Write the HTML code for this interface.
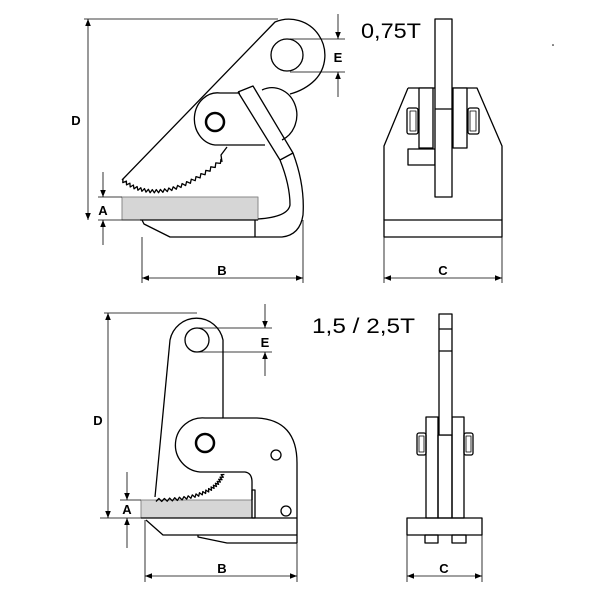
<!DOCTYPE html>
<html><head><style>
html,body{margin:0;padding:0;background:#fff;}
svg{display:block;}
text{font-family:"Liberation Sans",sans-serif;}
</style></head><body>
<svg id="s" width="600" height="600" viewBox="0 0 600 600" xmlns="http://www.w3.org/2000/svg">
<defs>
<marker id="ar" viewBox="0 0 10 10" refX="10" refY="5" markerWidth="9" markerHeight="7" orient="auto-start-reverse" markerUnits="userSpaceOnUse"><path d="M0,1 L10,5 L0,9 z" fill="#000"/></marker>
</defs>
<g fill="none" stroke="#000" stroke-width="1.3" stroke-linejoin="round">
<rect x="122" y="197" width="136" height="23" fill="#d6d6d6" stroke="#888" stroke-width="1"/>
<path d="M122,180 L275,22 A36,36 0 0 1 315,80 Q305,90 290,94"/>
<circle cx="287" cy="55" r="16"/>
<path d="M262,90 A20,22 0 0 1 282,140"/>
<path d="M240,93 L220,93 A23,26 0 0 0 215,145 L265,145"/>
<circle cx="215" cy="122" r="9" stroke-width="2.5"/>
<path d="M227,147 L221,155 L222,162"/>
<path d="M238,92 L253,86 L293,153 Q305,185 303,215 Q300,235 282,237 L255,237"/>
<path d="M238,92 L280,160 Q290,185 290,205 Q288,217 258,219"/>
<path d="M280,160 L293,153"/>
<path d="M140,220 L258,220 M142,220 L144,224 L170,237 L255,237 M255,220 L255,237"/>
<path d="M408,88 L477,88 L502,146 L502,220 M408,88 L384,146 L384,220"/>
<rect x="384" y="220" width="118" height="17"/>
<rect x="408" y="149" width="27" height="16" fill="#fff"/>
<rect x="419" y="88" width="14" height="60" fill="#fff"/>
<rect x="453" y="88" width="14" height="60" fill="#fff"/>
<rect x="435" y="19" width="17" height="178" fill="#fff"/>
<line x1="435" y1="109" x2="452" y2="109"/>
<rect x="407" y="108" width="11" height="26" rx="2" fill="#fff"/>
<rect x="410" y="111" width="6" height="20" stroke-width="0.8"/>
<rect x="468" y="108" width="11" height="26" rx="2" fill="#fff"/>
<rect x="470" y="111" width="6" height="20" stroke-width="0.8"/>
<rect x="141" y="500" width="111" height="18" fill="#d6d6d6" stroke="#888" stroke-width="1"/>
<path d="M155,497 L170,340 A27,27 0 0 1 223,340 L223,418 L257,418 Q297,420 297,463 L297,543"/>
<circle cx="197" cy="340" r="12"/>
<path d="M223,418 L205,418 A27,27 0 0 0 200,472 L245,472 Q252,473 252,482 L252,500"/>
<circle cx="205" cy="443" r="9" stroke-width="2.5"/>
<rect x="252" y="490" width="3" height="28"/>
<circle cx="276" cy="455" r="5"/>
<circle cx="286" cy="511" r="5"/>
<path d="M141,518 L297,518 M146,520 L163,535 L297,535 M198,535 L198,537 L227,543 L297,543"/>
<rect x="426" y="417" width="12" height="101"/>
<rect x="452" y="417" width="12" height="101"/>
<rect x="438" y="435" width="14" height="83"/>
<rect x="439" y="314" width="13" height="121" fill="#fff"/>
<path d="M439,329 L452,329 M439,351 L452,351"/>
<rect x="417" y="433" width="9" height="22" rx="2"/>
<rect x="419" y="436" width="5" height="16" stroke-width="0.8"/>
<rect x="464" y="433" width="9" height="22" rx="2"/>
<rect x="466" y="436" width="5" height="16" stroke-width="0.8"/>
<rect x="407" y="518" width="75" height="17"/>
<rect x="425" y="535" width="13" height="8"/>
<rect x="452" y="535" width="14" height="8"/>
<path id="t1"/>
<path id="t2"/>
</g>
<g stroke="#000" stroke-width="0.8" fill="none">
<path d="M84,19 L278,19 M98,197 L122,197 M98,220 L140,220 M290,39 L345,39 M290,72 L345,72 M142,237 L142,283 M303,220 L303,283 M384,237 L384,283 M502,237 L502,283"/>
<line x1="88" y1="19" x2="88" y2="220" marker-start="url(#ar)" marker-end="url(#ar)"/>
<line x1="103" y1="172" x2="103" y2="197" marker-end="url(#ar)"/>
<line x1="103" y1="245" x2="103" y2="220" marker-end="url(#ar)"/>
<line x1="338" y1="14" x2="338" y2="39" marker-end="url(#ar)"/>
<line x1="338" y1="97" x2="338" y2="72" marker-end="url(#ar)"/>
<line x1="142" y1="278" x2="303" y2="278" marker-start="url(#ar)" marker-end="url(#ar)"/>
<line x1="384" y1="278" x2="502" y2="278" marker-start="url(#ar)" marker-end="url(#ar)"/>
<path d="M104,313 L197,313 M120,500 L141,500 M100,518 L141,518 M197,328 L272,328 M197,352 L272,352 M145,520 L145,582 M297,543 L297,582 M407,535 L407,582 M482,535 L482,582"/>
<line x1="108" y1="313" x2="108" y2="518" marker-start="url(#ar)" marker-end="url(#ar)"/>
<line x1="127" y1="472" x2="127" y2="500" marker-end="url(#ar)"/>
<line x1="127" y1="548" x2="127" y2="518" marker-end="url(#ar)"/>
<line x1="265" y1="304" x2="265" y2="328" marker-end="url(#ar)"/>
<line x1="265" y1="376" x2="265" y2="352" marker-end="url(#ar)"/>
<line x1="145" y1="576" x2="297" y2="576" marker-start="url(#ar)" marker-end="url(#ar)"/>
<line x1="407" y1="576" x2="482" y2="576" marker-start="url(#ar)" marker-end="url(#ar)"/>
</g>
<circle cx="553" cy="45" r="0.8" fill="#000"/>
<g font-weight="bold" font-size="13" text-anchor="middle" fill="#000">
<text x="76" y="125">D</text>
<text x="103" y="215">A</text>
<text x="338" y="62">E</text>
<text x="222" y="275">B</text>
<text x="443" y="275">C</text>
<text x="98" y="425">D</text>
<text x="127" y="514">A</text>
<text x="265" y="347">E</text>
<text x="222" y="573">B</text>
<text x="444" y="573">C</text>
</g>
<text x="361" y="38" font-size="21" fill="#000" textLength="60" lengthAdjust="spacingAndGlyphs">0,75T</text>
<text x="312" y="333" font-size="21" fill="#000" textLength="103" lengthAdjust="spacingAndGlyphs">1,5 / 2,5T</text>
</svg>
<script>
function zig(id,p0,c,p2,n,a){
 var d="";
 for(var i=0;i<=n;i++){
  var t=i/n,u=1-t;
  var x=u*u*p0[0]+2*u*t*c[0]+t*t*p2[0];
  var y=u*u*p0[1]+2*u*t*c[1]+t*t*p2[1];
  var dx=2*u*(c[0]-p0[0])+2*t*(p2[0]-c[0]);
  var dy=2*u*(c[1]-p0[1])+2*t*(p2[1]-c[1]);
  var l=Math.sqrt(dx*dx+dy*dy)||1;
  var s=(i%2?a:-a);
  x+=-dy/l*s; y+=dx/l*s;
  d+=(i?"L":"M")+x.toFixed(1)+","+y.toFixed(1);
 }
 document.getElementById(id).setAttribute("d",d);
}
zig("t1",[122,180],[162,210],[222,160],46,1.6);
zig("t2",[223,474],[214,500],[156,500],40,1.5);
</script>
</body></html>
